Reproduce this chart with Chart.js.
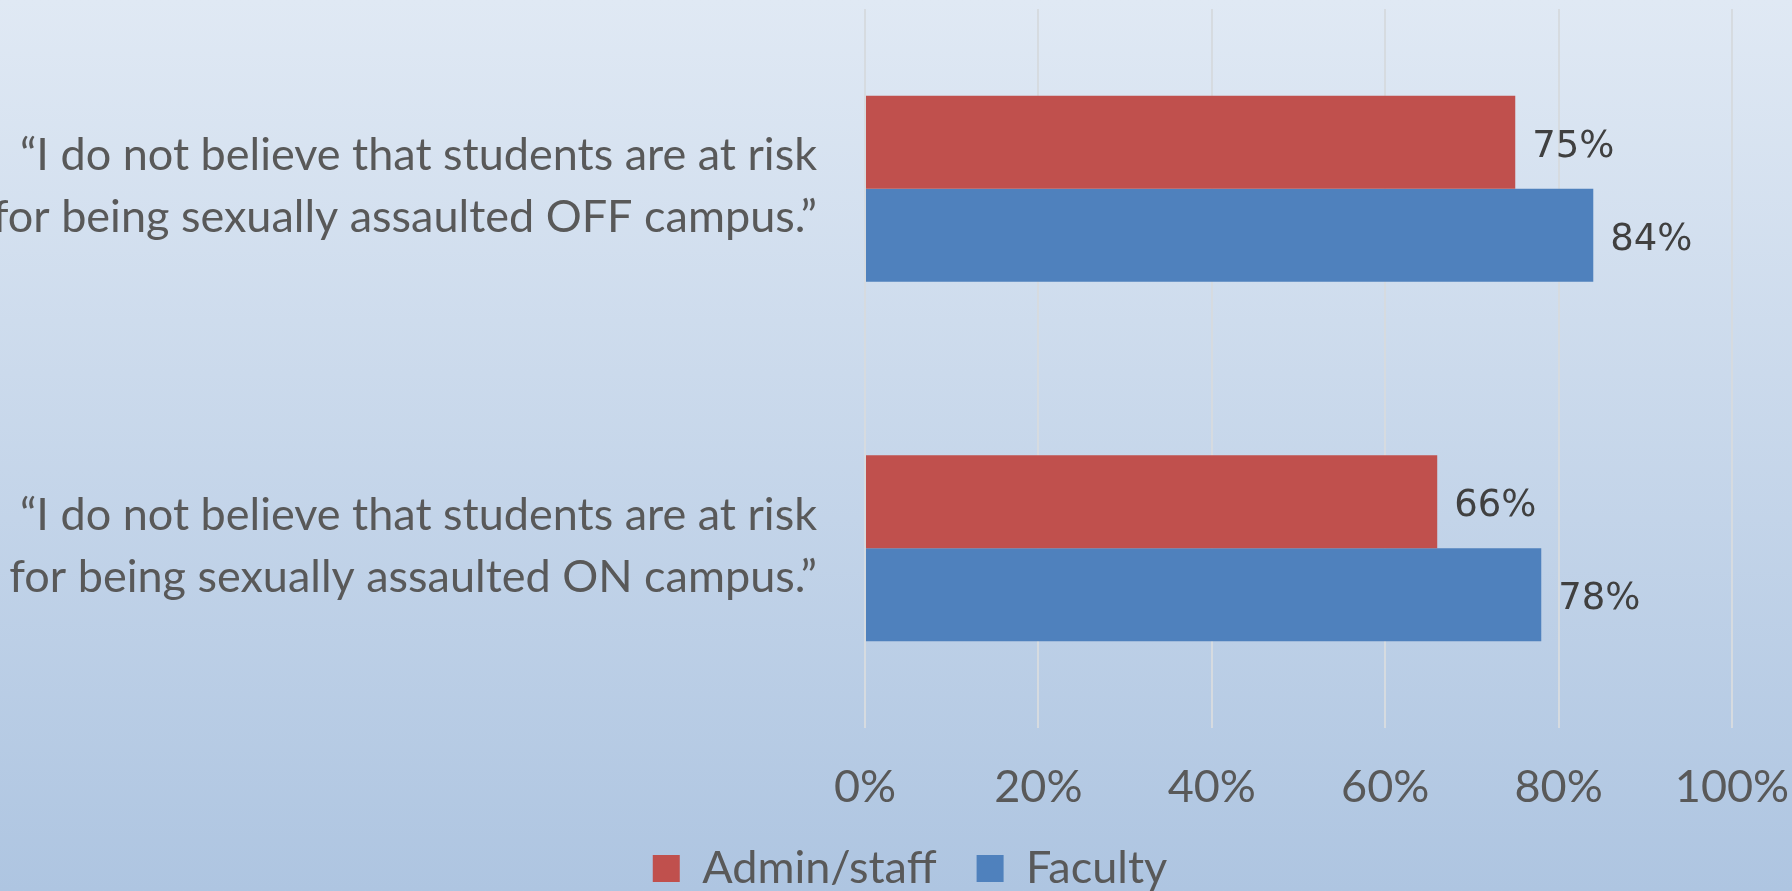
<!DOCTYPE html>
<html><head><meta charset="utf-8">
<script src="https://cdn.jsdelivr.net/npm/chart.js@4"></script>
<style>
html,body{margin:0;padding:0;}
body{width:1792px;height:891px;background:linear-gradient(to bottom,#e0e9f4 0%,#aec5e1 100%);overflow:hidden;}
#wrap{position:relative;width:1792px;height:891px;}
</style></head><body><div id="wrap"><canvas id="c"></canvas></div>
<script>
const categories = [
  ['\u201CI do not believe that students are at risk', 'for being sexually assaulted OFF campus.\u201D'],
  ['\u201CI do not believe that students are at risk', 'for being sexually assaulted ON campus.\u201D']
];
const seriesNames = ['Admin/staff', 'Faculty'];
const adminStaff = [75, 66];
const faculty = [84, 78];
const xTickValues = [0, 20, 40, 60, 80, 100];

const seriesColors = ['#C0504D', '#4F81BD'];
const labelFont = 'Lato';
const textColor = '#595959';

const valueLabels = {
  id: 'valueLabels',
  afterDatasetsDraw(chart) {
    const ctx = chart.ctx;
    ctx.save();
    ctx.font = '37px "DejaVu Sans"';
    ctx.fillStyle = '#404040';
    ctx.textAlign = 'left';
    ctx.textBaseline = 'middle';
    chart.data.datasets.forEach((ds, di) => {
      chart.getDatasetMeta(di).data.forEach((bar, i) => {
        ctx.fillText(ds.data[i] + '%', bar.x + 17, bar.y + 5);
      });
    });
    ctx.restore();
  }
};

const legendShift = {
  id: 'legendShift',
  afterLayout(chart) {
    if (chart.legend) { chart.legend.left += 88; }
  }
};

new Chart(document.getElementById('c'), {
  type: 'bar',
  data: {
    labels: categories,
    datasets: [
      { label: seriesNames[0], data: adminStaff, backgroundColor: seriesColors[0] },
      { label: seriesNames[1], data: faculty, backgroundColor: seriesColors[1] }
    ]
  },
  options: {
    indexAxis: 'y',
    responsive: true,
    maintainAspectRatio: false,
    animation: false,
    categoryPercentage: 0.518,
    barPercentage: 1.0,
    layout: { padding: { top: 9, right: 60, left: 0, bottom: -10 } },
    scales: {
      x: {
        type: 'linear',
        min: 0, max: 100,
        afterBuildTicks: s => { s.ticks = xTickValues.map(v => ({ value: v })); },
        grid: { color: '#d6dbe0', lineWidth: 2, drawTicks: false },
        border: { display: false },
        ticks: { color: textColor, font: { family: labelFont, size: 45 }, padding: 32, callback: v => v + '%' },
        afterFit: s => { s.height = 78; s.paddingLeft = 0; s.paddingRight = 0; }
      },
      y: {
        type: 'category',
        position: 'left',
        offset: true,
        grid: { display: false, drawTicks: false },
        border: { display: false },
        ticks: { color: textColor, font: { family: labelFont, size: 45, lineHeight: 1.38 }, padding: 48, labelOffset: -2 },
        afterFit: s => { s.width = 865; s.paddingTop = 0; s.paddingBottom = 0; }
      }
    },
    plugins: {
      legend: {
        position: 'bottom',
        labels: { color: textColor, font: { family: labelFont, size: 45 }, boxWidth: 27, boxHeight: 27, padding: 40 }
      },
      tooltip: { enabled: false }
    }
  },
  plugins: [valueLabels, legendShift]
});
</script></body></html>
